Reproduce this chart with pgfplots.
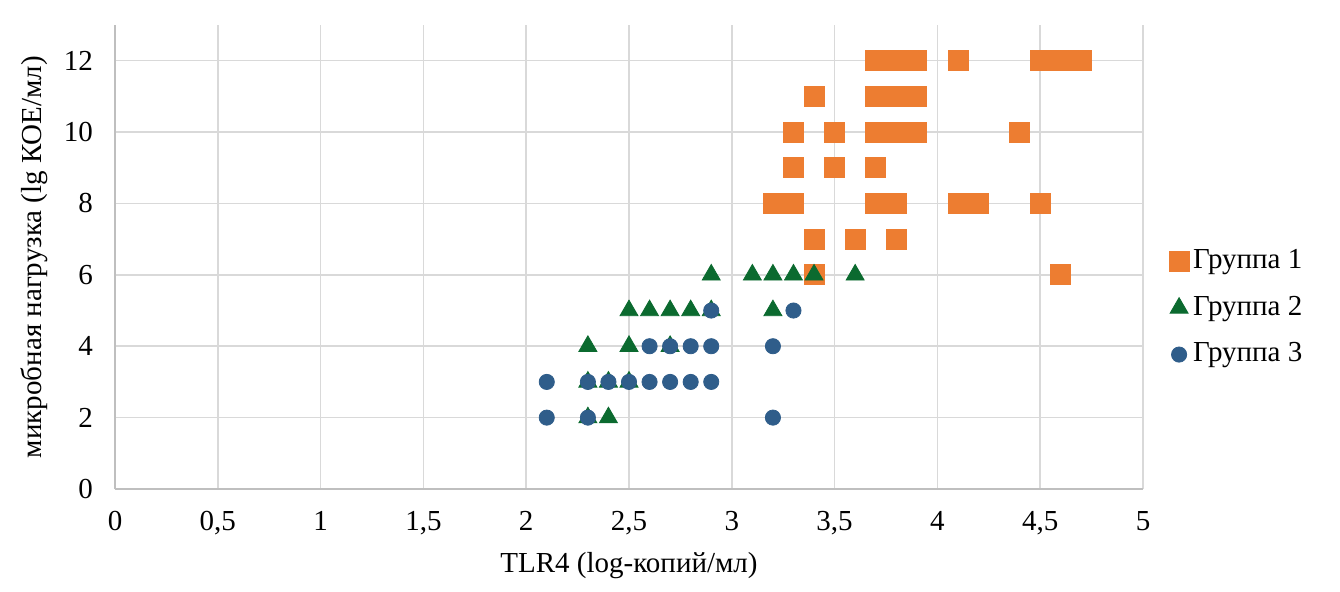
\documentclass[border=0pt]{standalone}
\usepackage{fontspec}
\setmainfont{Liberation Serif}
\usepackage{pgfplots}
\pgfplotsset{compat=1.18}
\definecolor{gOrange}{HTML}{ED7D31}
\definecolor{gGreen}{HTML}{0B6A2F}
\definecolor{gBlue}{HTML}{2F5D8A}
\definecolor{axGray}{HTML}{BFBFBF}
\definecolor{grGray}{HTML}{D9D9D9}
\begin{document}
\fontsize{14.5}{17}\selectfont
\begin{tikzpicture}
\useasboundingbox (-57.5pt,-51pt) rectangle (612.5pt,244.5pt);
\begin{axis}[
  at={(0,0)}, anchor=south west,
  scale only axis, width=514pt, height=232pt,
  xmin=0, xmax=5, ymin=0, ymax=13,
  xtick={0,0.5,1,1.5,2,2.5,3,3.5,4,4.5,5},
  xticklabels={0,{0,5},1,{1,5},2,{2,5},3,{3,5},4,{4,5},5},
  ytick={0,2,4,6,8,10,12},
  yticklabels={0,2,4,6,8,10,12},
  axis x line*=bottom, axis y line*=left,
  axis line style={draw=axGray, line width=0.8pt, -},
  grid=major, major grid style={draw=grGray, line width=0.8pt},
  major tick length=0pt,
  tick label style={font=\fontsize{14.5}{17}\selectfont},
  xticklabel style={yshift=-6pt},
  yticklabel style={xshift=-6pt},
  xlabel={TLR4 (log-копий/мл)},
  ylabel={микробная нагрузка (lg КОЕ/мл)},
  label style={font=\fontsize{14.5}{17}\selectfont},
  xlabel style={yshift=1pt},
  ylabel style={yshift=-2pt},
  legend style={at={(1.025,0.39)}, anchor=west, draw=none, fill=none,
    font=\fontsize{14.5}{17}\selectfont, row sep=7.5pt,
    inner sep=0pt},
  legend cell align=left,
  legend image code/.code={\draw[#1] plot coordinates {(0.18cm,0cm)};},
  clip=false,
]
\addplot[only marks, mark=square*, mark size=5pt, color=gOrange] coordinates {
(3.7,12)(3.8,12)(3.9,12)(4.1,12)(4.5,12)(4.6,12)(4.7,12)
(3.4,11)(3.7,11)(3.8,11)(3.9,11)
(3.3,10)(3.5,10)(3.7,10)(3.8,10)(3.9,10)(4.4,10)
(3.3,9)(3.5,9)(3.7,9)
(3.2,8)(3.3,8)(3.7,8)(3.8,8)(4.1,8)(4.2,8)(4.5,8)
(3.4,7)(3.6,7)(3.8,7)
(3.4,6)(4.6,6)
};
\addlegendentry{Группа 1}
\addplot[only marks, mark=triangle*, mark size=5.2pt, color=gGreen] coordinates {
(2.9,6)(3.1,6)(3.2,6)(3.3,6)(3.4,6)(3.6,6)
(2.5,5)(2.6,5)(2.7,5)(2.8,5)(2.9,5)(3.2,5)
(2.3,4)(2.5,4)(2.7,4)
(2.3,3)(2.4,3)(2.5,3)
(2.3,2)(2.4,2)
};
\addlegendentry{Группа 2}
\addplot[only marks, mark=*, mark size=3.8pt, color=gBlue] coordinates {
(2.9,5)(3.3,5)
(2.6,4)(2.7,4)(2.8,4)(2.9,4)(3.2,4)
(2.1,3)(2.3,3)(2.4,3)(2.5,3)(2.6,3)(2.7,3)(2.8,3)(2.9,3)
(2.1,2)(2.3,2)(3.2,2)
};
\addlegendentry{Группа 3}
\end{axis}
\end{tikzpicture}
\end{document}
